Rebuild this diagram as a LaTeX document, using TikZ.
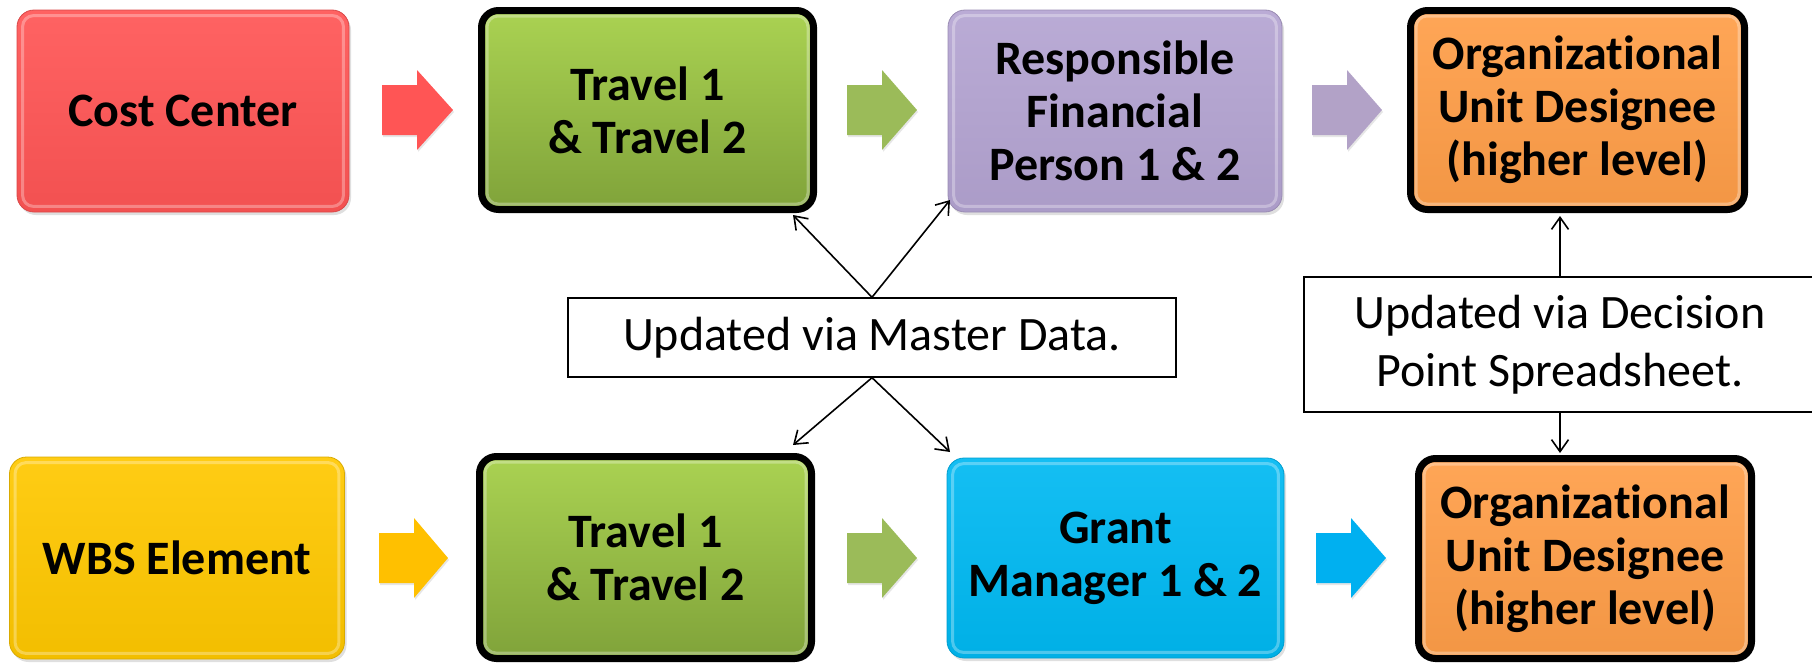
\documentclass[tikz,border=0pt]{standalone}
\usepackage{fontspec}
\setmainfont{Carlito}[Ligatures={NoCommon}]
\usetikzlibrary{arrows.meta,calc,shadows}
\definecolor{cRed}{RGB}{255,85,85}
\definecolor{cGreenT}{RGB}{170,210,82}
\definecolor{cGreenB}{RGB}{128,163,58}
\definecolor{cPurple}{RGB}{180,164,210}
\definecolor{cOrange}{RGB}{255,158,72}
\definecolor{cYellow}{RGB}{255,200,0}
\definecolor{cBlue}{RGB}{0,185,242}
\definecolor{aGreen}{RGB}{155,187,89}
\definecolor{aPurple}{RGB}{178,162,199}
\definecolor{aYellow}{RGB}{255,192,0}
\definecolor{aBlue}{RGB}{0,176,240}
\newcommand\boxfont{\fontsize{48}{53}\selectfont\bfseries}
\newcommand\notefont{\fontsize{48}{58}\selectfont}
\newcommand\orgword{Organizat\kern0pt ional}
\newcommand\blockarr[4]{%
  \fill[#1, drop shadow={opacity=0.2,shadow xshift=1pt,shadow yshift=-2pt}]
    (#2,#4-25) -- (#2+35,#4-25) -- (#2+35,#4-40) -- (#3,#4) --
    (#2+35,#4+40) -- (#2+35,#4+25) -- (#2,#4+25) -- cycle;}
\tikzset{
  flowbox/.style={rectangle, rounded corners=17pt, align=center, inner sep=0pt,
    font=\boxfont, text=black, minimum width=335pt, minimum height=202pt,
    drop shadow={opacity=0.25, shadow xshift=2pt, shadow yshift=-3pt}},
  plainbox/.style={flowbox, draw=#1!85!black, line width=0.8pt,
    top color=#1!92!white, bottom color=#1!95!black},
  framedbox/.style={flowbox, draw=black, line width=7pt,
    minimum width=332pt, minimum height=199pt,
    top color=#1!92!white, bottom color=#1!95!black},
  note/.style={rectangle, draw=black, line width=1.4pt, fill=white,
    font=\notefont, align=center, inner sep=0pt},
  conn/.style={line width=1.6pt,
    -{Straight Barb[length=12pt,width=17pt,line width=1.6pt]}},
  bevel/.style={rounded corners=11pt, line width=3pt, draw=white, opacity=0.3},
}
\begin{document}
\begin{tikzpicture}[x=1pt,y=-1pt]
\useasboundingbox (0,0) rectangle (1812,664);

% block arrows
\blockarr{cRed}{382}{453}{110}
\blockarr{aGreen}{847}{917}{110}
\blockarr{aPurple}{1312}{1382}{110}
\blockarr{aYellow}{379}{448}{558}
\blockarr{aGreen}{847}{917}{558}
\blockarr{aBlue}{1316}{1386}{558}

% top row
\node[plainbox=cRed, minimum width=332pt] (cc) at (183,111) {Cost Center};
\node[framedbox=cGreenT, top color=cGreenT, bottom color=cGreenB] (t1) at (647.5,110) {Travel 1\\\& Travel 2};
\node[plainbox=cPurple, minimum width=334pt] (rf) at (1115,111) {Responsible\\Financial\\Person 1 \& 2};
\node[framedbox=cOrange, minimum width=334pt] (o1) at (1577.5,110) {\orgword\\Unit Designee\\(higher level)};

% bottom row
\node[plainbox=cYellow] (wbs) at (177,558) {WBS Element};
\node[framedbox=cGreenT, top color=cGreenT, bottom color=cGreenB, minimum height=202pt] (t2) at (645.5,557.5) {Travel 1\\\& Travel 2};
\node[plainbox=cBlue, minimum width=337pt, minimum height=200pt] (gm) at (1115.5,558) {Grant\\Manager 1 \& 2};
\node[framedbox=cOrange, minimum width=333pt, minimum height=200pt] (o2) at (1585,558.5) {\orgword\\Unit Designee\\(higher level)};

% bevel highlights
\foreach \n in {cc,rf,wbs,gm}
  \draw[bevel] ($(\n.south west)+(6pt,6pt)$) rectangle ($(\n.north east)+(-6pt,-6pt)$);
\foreach \n in {t1,o1,t2,o2}
  \draw[bevel] ($(\n.south west)+(9pt,9pt)$) rectangle ($(\n.north east)+(-9pt,-9pt)$);

% notes
\node[note, minimum width=608pt, minimum height=79pt] (md) at (872,337.5) {Updated via Master Data.};
\node[note, minimum width=512pt, minimum height=135pt] (dp) at (1560,344.5) {Updated via Decision\\Point Spreadsheet.};

% connector end points
\coordinate (m1) at (793,215);
\coordinate (m2) at (950,200);
\coordinate (m3) at (793,445);
\coordinate (m4) at (950,452);
\coordinate (d1) at (1560,216);
\coordinate (d2) at (1560,453);

\draw[conn] (md.north) -- (m1);
\draw[conn] (md.north) -- (m2);
\draw[conn] (md.south) -- (m3);
\draw[conn] (md.south) -- (m4);
\draw[conn] (dp.north) -- (d1);
\draw[conn] (dp.south) -- (d2);
\end{tikzpicture}
\end{document}
